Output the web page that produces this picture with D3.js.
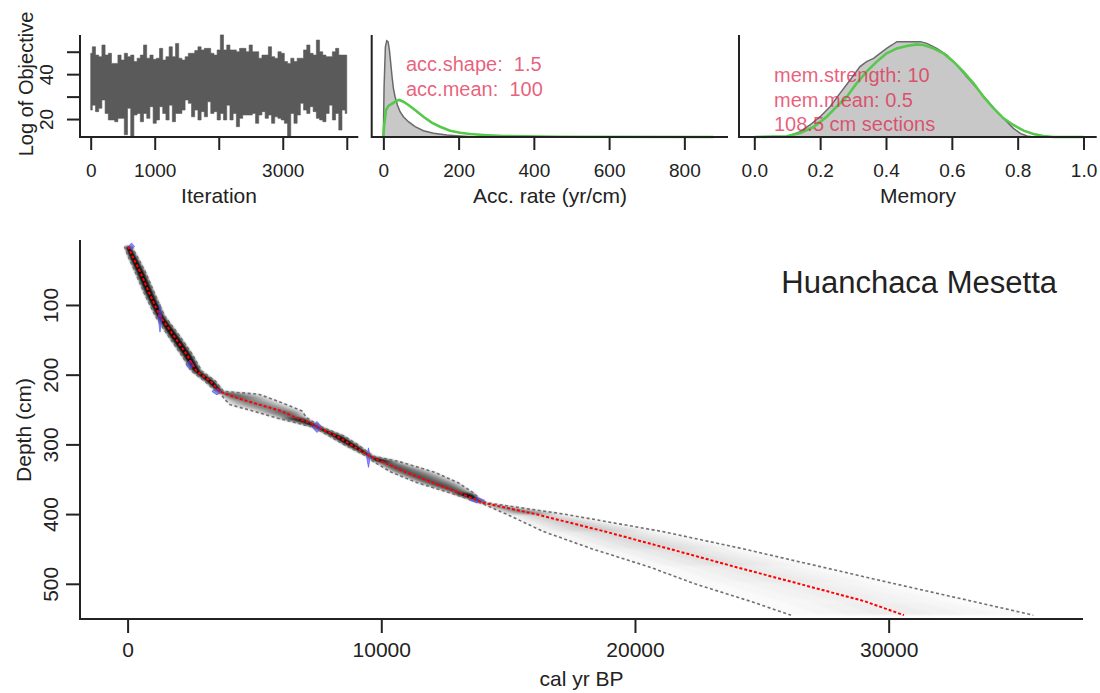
<!DOCTYPE html>
<html>
<head>
<meta charset="utf-8">
<script src="https://cdn.jsdelivr.net/npm/d3@7"></script>
<style>
body { margin: 0; background: #fff; }
svg { font-family: "Liberation Sans", Arial, sans-serif; }
.ann { white-space: pre; }
</style>
</head>
<body>
<div id="chart"></div>
<script>
const width = 1100;
const height = 693;

// MCMC trace, read per block of 50 iterations: highest and lowest value
const traceHi = [49.3, 52.2, 48.5, 47.8, 53.0, 48.5, 49.3, 44.8, 44.8, 48.5, 46.3, 49.3, 47.8, 48.5, 45.6, 47.1, 48.5, 53.0, 47.1, 48.5,
    46.6, 47.1, 51.5, 46.3, 47.8, 52.2, 47.8, 53.7, 47.1, 46.3, 47.8, 49.3, 49.3, 50.5, 52.2, 50.8, 51.5, 51.5, 49.3, 48.5,
    50.8, 57.5, 50.8, 53.0, 50.8, 50.8, 50.0, 51.5, 51.5, 50.0, 53.0, 50.0, 50.0, 47.1, 48.5, 48.5, 52.2, 47.8, 47.1, 50.0,
    49.3, 45.6, 44.8, 47.1, 45.6, 47.1, 47.1, 50.8, 53.0, 49.3, 48.5, 55.2, 50.0, 48.5, 47.8, 47.8, 50.0, 51.5, 48.5, 48.5, 48.5];
const traceLo = [24.0, 26.2, 23.3, 24.8, 28.5, 22.5, 19.6, 19.6, 18.8, 20.3, 20.3, 13.0, 24.8, 12.5, 21.8, 22.5, 18.8, 22.5, 20.3, 25.5,
    18.1, 19.6, 25.5, 22.5, 19.6, 26.2, 18.8, 22.5, 22.5, 24.0, 28.5, 27.0, 21.0, 24.0, 19.6, 23.3, 21.0, 27.7, 22.5, 23.3,
    19.6, 22.5, 19.6, 26.2, 19.6, 22.5, 16.6, 20.3, 21.8, 21.8, 21.8, 22.5, 18.1, 21.8, 23.3, 20.3, 21.8, 18.1, 21.0, 20.3,
    19.6, 18.1, 12.5, 22.5, 18.1, 21.8, 27.0, 24.0, 22.5, 25.5, 23.3, 20.3, 19.6, 18.8, 22.5, 26.2, 19.6, 22.5, 15.1, 24.0, 22.5];
const traceStep = 50;

// accumulation rate: posterior (grey) and prior (green), relative density
const accPostRate = [0, 1.8, 5.4, 8.9, 12.5, 16.1, 19.6, 23.1, 26.7, 31.1, 37.3, 44.4, 53.2, 66.6, 84.3, 106.5, 133, 168.6, 204, 248];
const accPostDens = [0, 0.477, 0.885, 0.944, 0.934, 0.853, 0.722, 0.591, 0.477, 0.395, 0.314, 0.248, 0.199, 0.15, 0.101, 0.062, 0.036, 0.02, 0.01, 0];
const accPriorRate = [0, 1.8, 7.1, 13.3, 22.2, 35.5, 42.6, 53.2, 66.6, 84.3, 106.5, 128.6, 150.8, 177.4, 204, 230.5, 266, 319, 470, 877.5];
const accPriorDens = [0, 0.101, 0.265, 0.304, 0.324, 0.356, 0.363, 0.346, 0.314, 0.265, 0.199, 0.141, 0.101, 0.062, 0.042, 0.029, 0.02, 0.01, 0.003, 0];
const accTicks = [0, 200, 400, 600, 800];
const accText = ["acc.shape:  1.5", "acc.mean:  100"];

// memory: posterior (grey) and prior (green)
const memPostVal = [0.098, 0.113, 0.139, 0.169, 0.2, 0.23, 0.26, 0.291, 0.321, 0.341, 0.362, 0.382, 0.402, 0.418, 0.433, 0.504,
    0.524, 0.554, 0.585, 0.615, 0.645, 0.676, 0.706, 0.737, 0.767, 0.787, 0.808, 0.828, 0.848];
const memPostDens = [0, 0.02, 0.052, 0.118, 0.199, 0.297, 0.428, 0.559, 0.69, 0.739, 0.771, 0.82, 0.869, 0.902, 0.935, 0.935,
    0.918, 0.869, 0.804, 0.706, 0.591, 0.477, 0.363, 0.248, 0.15, 0.085, 0.036, 0.01, 0];
const memPriorVal = [0, 0.098, 0.139, 0.18, 0.22, 0.25, 0.281, 0.311, 0.341, 0.372, 0.402, 0.433, 0.463, 0.493, 0.514, 0.544,
    0.574, 0.605, 0.635, 0.666, 0.696, 0.727, 0.757, 0.787, 0.818, 0.848, 0.878, 0.909, 1.0];
const memPriorDens = [0, 0.007, 0.039, 0.098, 0.199, 0.297, 0.395, 0.526, 0.641, 0.739, 0.82, 0.869, 0.892, 0.908, 0.902, 0.869,
    0.82, 0.739, 0.641, 0.526, 0.395, 0.281, 0.183, 0.118, 0.062, 0.029, 0.01, 0, 0];
const memTicks = [0, 0.2, 0.4, 0.6, 0.8, 1.0];
const memText = ["mem.strength: 10", "mem.mean: 0.5", "108.5 cm sections"];

// age-depth model: 95% range and mean age per depth
const depths = [16, 30, 52, 85, 116, 143, 171, 195, 209, 224, 228, 235, 243, 252, 262, 270, 275, 288, 300, 317,
    325, 340, 355, 370, 380, 384, 400, 425, 450, 475, 500, 525, 545];
const ageMin = [-120, 20, 290, 680, 1100, 1580, 2110, 2530, 3030, 3500, 3680, 3820, 4036, 4930, 5877, 6750, 7300, 7960, 8520, 9430,
    9700, 10400, 11420, 12750, 13600, 13920, 14930, 16390, 18320, 20500, 22360, 24540, 26150];
const ageMean = [20, 190, 490, 880, 1280, 1800, 2330, 2720, 3250, 3640, 3900, 4450, 5185, 6050, 6662, 7250, 7480, 8240, 8780, 9555,
    10040, 10975, 12030, 13100, 13760, 14040, 16080, 18820, 21370, 23880, 26470, 29050, 30600];
const ageMax = [150, 370, 690, 1080, 1460, 2020, 2550, 2920, 3450, 3780, 5150, 5700, 6271, 6870, 7060, 7420, 7640, 8520, 9060, 9690,
    10737, 12100, 13030, 13650, 13920, 14180, 17200, 21080, 24290, 27260, 30240, 33290, 35700];

// dated levels: calibrated age, depth, age spread (yr), drawn height (cm)
const dateAge = [155, 1277, 2460, 3520, 7465, 9495, 13770];
const dateDepth = [16, 119, 186, 224, 275, 319, 380];
const dateSpread = [60, 35, 80, 100, 100, 35, 150];
const dateHeight = [5, 20, 7, 5, 8, 14, 4];

const siteName = "Huanchaca Mesetta";
const ageTicks = [0, 10000, 20000, 30000];
const depthTicks = [100, 200, 300, 400, 500];

const ink = "#222";
const green = "#55c94a";
const pink = "#e0234a";

const svg = d3.select("#chart").append("svg")
    .attr("width", width)
    .attr("height", height)
    .style("background", "#fff");

const defs = svg.append("defs");
defs.append("filter").attr("id", "blur")
    .attr("x", "-20%").attr("y", "-20%").attr("width", "140%").attr("height", "140%")
    .append("feGaussianBlur").attr("stdDeviation", 1.3);

// draw an R-style "L" box
function lBox(g, x0, x1, y0, y1) {
    g.append("path")
        .attr("d", `M${x0},${y0}V${y1}H${x1}`)
        .attr("fill", "none")
        .attr("stroke", ink)
        .attr("stroke-width", 2);
}

function bottomAxis(g, scale, ticks, y, labels, size, tickLen, labelY) {
    const ax = g.append("g")
        .attr("transform", `translate(0,${y})`)
        .call(d3.axisBottom(scale).tickValues(ticks).tickSize(tickLen).tickFormat((d, i) => labels[i]));
    ax.select(".domain").remove();
    ax.selectAll(".tick line").attr("stroke", ink).attr("stroke-width", 2);
    ax.selectAll(".tick text")
        .attr("y", labelY).attr("dy", null)
        .attr("fill", ink)
        .style("font-size", size + "px")
        .style("font-family", "Liberation Sans, Arial, sans-serif");
}

function leftAxis(g, scale, ticks, x, labels, size, tickLen, gap) {
    const ax = g.append("g")
        .attr("transform", `translate(${x},0)`)
        .call(d3.axisLeft(scale).tickValues(ticks).tickSize(tickLen).tickFormat((d, i) => labels[i]));
    ax.select(".domain").remove();
    ax.selectAll(".tick line").attr("stroke", ink).attr("stroke-width", 2);
    ax.selectAll(".tick text")
        .attr("transform", "rotate(-90)")
        .attr("x", 0).attr("y", -gap).attr("dy", null)
        .style("text-anchor", "middle")
        .attr("fill", ink)
        .style("font-size", size + "px")
        .style("font-family", "Liberation Sans, Arial, sans-serif");
}

function title(g, txt, x, y, size, rotate) {
    g.append("text")
        .attr("x", x).attr("y", y)
        .attr("transform", rotate ? `rotate(-90,${x},${y})` : null)
        .attr("text-anchor", "middle")
        .attr("fill", ink)
        .style("font-size", size + "px")
        .text(txt);
}

// ---------- panel 1: trace ----------
const p1 = svg.append("g");
const xIter = d3.scaleLinear().domain([-167, 4180]).range([80, 358.3]);
const yObj = d3.scaleLinear().domain([12, 57.45]).range([137, 35]);

p1.append("path")
    .datum(traceHi)
    .attr("d", d3.area()
        .curve(d3.curveStep)
        .x((d, i) => xIter(i * traceStep))
        .y0((d, i) => yObj(traceLo[i]))
        .y1(d => yObj(d)))
    .attr("fill", "#5a5a5a")
    .attr("stroke", "#5a5a5a")
    .attr("stroke-width", 0.6);

lBox(p1, 80, 358.3, 35, 137);
bottomAxis(p1, xIter, [0, 1000, 2000, 3000, 4000], 137, ["0", "1000", "", "3000", ""], 19, 13, 40);
leftAxis(p1, yObj, [20, 30, 40, 50], 80, ["20", "", "40", ""], 19, 13, 27);
title(p1, "Iteration", 219, 203, 21);
title(p1, "Log of Objective", 33, 84, 20, true);

// ---------- panel 2: accumulation rate ----------
const p2 = svg.append("g");
const xAcc = d3.scaleLinear().domain([-31, 916]).range([371.7, 728]);
const yDens = d3.scaleLinear().domain([0, 1]).range([137, 35]);

const accPost = accPostRate.map((r, i) => [r, accPostDens[i]]);
const accPrior = accPriorRate.map((r, i) => [r, accPriorDens[i]]);

p2.append("path")
    .datum(accPost)
    .attr("d", d3.area().x(d => xAcc(d[0])).y0(yDens(0)).y1(d => yDens(d[1])))
    .attr("fill", "#c8c8c8")
    .attr("stroke", "#6a6a6a")
    .attr("stroke-width", 1.5);

p2.append("path")
    .datum(accPrior)
    .attr("d", d3.line().x(d => xAcc(d[0])).y(d => yDens(d[1])))
    .attr("fill", "none")
    .attr("stroke", green)
    .attr("stroke-width", 2.6);

lBox(p2, 371.7, 728, 35, 137);
bottomAxis(p2, xAcc, accTicks, 137, accTicks.map(String), 19, 13, 40);
title(p2, "Acc. rate (yr/cm)", 550, 203, 21);

p2.selectAll("text.ann")
    .data(accText)
    .join("text")
    .attr("class", "ann")
    .attr("x", 406)
    .attr("y", (d, i) => 71 + i * 25)
    .attr("fill", pink)
    .attr("fill-opacity", 0.72)
    .style("font-size", "20px")
    .text(d => d);

// ---------- panel 3: memory ----------
const p3 = svg.append("g");
const xMem = d3.scaleLinear().domain([-0.0465, 1.04]).range([739, 1096.7]);

const memPost = memPostVal.map((v, i) => [v, memPostDens[i]]);
const memPrior = memPriorVal.map((v, i) => [v, memPriorDens[i]]);

p3.append("path")
    .datum(memPost)
    .attr("d", d3.area().x(d => xMem(d[0])).y0(yDens(0)).y1(d => yDens(d[1])))
    .attr("fill", "#c8c8c8")
    .attr("stroke", "#6a6a6a")
    .attr("stroke-width", 1.5);

p3.append("path")
    .datum(memPrior)
    .attr("d", d3.line().x(d => xMem(d[0])).y(d => yDens(d[1])))
    .attr("fill", "none")
    .attr("stroke", green)
    .attr("stroke-width", 2.6);

lBox(p3, 739, 1096.7, 35, 137);
bottomAxis(p3, xMem, memTicks, 137, memTicks.map(d => d.toFixed(1)), 19, 13, 40);
title(p3, "Memory", 918, 203, 21);

p3.selectAll("text.ann")
    .data(memText)
    .join("text")
    .attr("class", "ann")
    .attr("x", 774)
    .attr("y", (d, i) => 82 + i * 24.5)
    .attr("fill", pink)
    .attr("fill-opacity", 0.72)
    .style("font-size", "20px")
    .text(d => d);

// ---------- main: age-depth model ----------
const pm = svg.append("g");
const xAge = d3.scaleLinear().domain([-1876, 37660]).range([80, 1083]);
const yDepth = d3.scaleLinear().domain([6.8, 550.5]).range([240, 619]);

// grey shading: nested bands, darker where the age range is narrow
const levels = [1, 0.75, 0.5, 0.25];
const shade = pm.append("g").attr("filter", "url(#blur)");
for (let j = 0; j < depths.length - 1; j++) {
    const w = Math.max(xAge(ageMax[j]) - xAge(ageMin[j]), xAge(ageMax[j + 1]) - xAge(ageMin[j + 1]));
    const a = Math.min(0.62, 70 / Math.pow(w, 1.5));
    levels.forEach(f => {
        const pts = [
            [xAge(ageMean[j] - f * (ageMean[j] - ageMin[j])), yDepth(depths[j])],
            [xAge(ageMean[j] + f * (ageMax[j] - ageMean[j])), yDepth(depths[j])],
            [xAge(ageMean[j + 1] + f * (ageMax[j + 1] - ageMean[j + 1])), yDepth(depths[j + 1])],
            [xAge(ageMean[j + 1] - f * (ageMean[j + 1] - ageMin[j + 1])), yDepth(depths[j + 1])]
        ];
        shade.append("polygon")
            .attr("points", pts.map(p => p.join(",")).join(" "))
            .attr("fill", "#000")
            .attr("fill-opacity", a);
    });
}

// dates
pm.selectAll("polygon.date")
    .data(dateAge)
    .join("polygon")
    .attr("class", "date")
    .attr("points", (d, i) => [
        [xAge(d - 2 * dateSpread[i]), yDepth(dateDepth[i])],
        [xAge(d), yDepth(dateDepth[i] - dateHeight[i])],
        [xAge(d + 2 * dateSpread[i]), yDepth(dateDepth[i])],
        [xAge(d), yDepth(dateDepth[i] + dateHeight[i])]
    ].map(p => p.join(",")).join(" "))
    .attr("fill", "rgba(70,70,255,0.6)")
    .attr("stroke", "rgba(70,70,255,0.6)")
    .attr("stroke-width", 1);

const ageLine = arr => d3.line()
    .x((d, i) => xAge(arr[i]))
    .y(d => yDepth(d));

[ageMin, ageMax].forEach(arr => {
    pm.append("path")
        .datum(depths)
        .attr("d", ageLine(arr))
        .attr("fill", "none")
        .attr("stroke", "#707070")
        .attr("stroke-width", 1.6)
        .attr("stroke-dasharray", "3,2.5");
});

pm.append("path")
    .datum(depths)
    .attr("d", ageLine(ageMean))
    .attr("fill", "none")
    .attr("stroke", "#ff0000")
    .attr("stroke-width", 2)
    .attr("stroke-dasharray", "3,2");

lBox(pm, 80, 1083, 240, 619);
bottomAxis(pm, xAge, ageTicks, 619, ageTicks.map(String), 21, 14, 38);
leftAxis(pm, yDepth, depthTicks, 80, depthTicks.map(String), 21, 14, 22);
title(pm, "cal yr BP", 581.5, 686, 21);
title(pm, "Depth (cm)", 31, 430, 21, true);

pm.append("text")
    .attr("x", 1057)
    .attr("y", 293)
    .attr("text-anchor", "end")
    .attr("fill", ink)
    .style("font-size", "31px")
    .text(siteName);
</script>
</body>
</html>
